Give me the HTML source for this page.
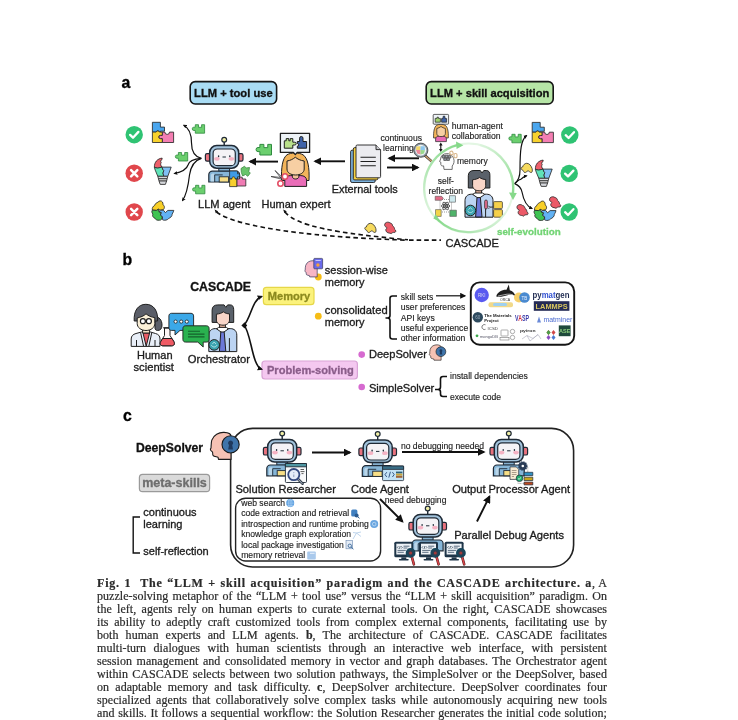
<!DOCTYPE html>
<html><head><meta charset="utf-8">
<style>
html,body{margin:0;padding:0;background:#fff;width:738px;height:720px;overflow:hidden;}
svg{position:absolute;left:0;top:0;will-change:transform;}
.lg text{stroke:none;}
svg text.s, .sg text{stroke-width:0.14px;}
svg text{font-family:"Liberation Sans",sans-serif;fill:#1c1c1c;stroke:#1c1c1c;stroke-width:0.32px;}
.cap{position:absolute;will-change:transform;left:97.2px;width:510px;height:13px;font-family:"Liberation Serif",serif;font-size:12px;line-height:13px;color:#2a2a2a;-webkit-text-stroke:0.2px #2a2a2a;text-align:justify;text-align-last:justify;white-space:nowrap;letter-spacing:0.05px;}
.cap b{font-weight:bold;}
</style></head><body>
<svg width="738" height="720" viewBox="0 0 738 720">
<defs>
<marker id="ah" viewBox="0 0 10 10" refX="8" refY="5" markerWidth="4.2" markerHeight="4.2" orient="auto-start-reverse" markerUnits="strokeWidth"><path d="M0 0L10 5L0 10z" fill="#111"/></marker>
<marker id="ahs" viewBox="0 0 10 10" refX="8" refY="5" markerWidth="5" markerHeight="5" orient="auto-start-reverse" markerUnits="strokeWidth"><path d="M0 0L10 5L0 10z" fill="#111"/></marker>
<marker id="ahx" viewBox="0 0 10 10" refX="7" refY="5" markerWidth="3.3" markerHeight="3.3" orient="auto" markerUnits="strokeWidth"><path d="M0 0.5L10 5L0 9.5z" fill="#111"/></marker>
<marker id="ahm" viewBox="0 0 10 10" refX="7" refY="5" markerWidth="3.4" markerHeight="3.4" orient="auto" markerUnits="strokeWidth"><path d="M0 0.5L10 5L0 9.5z" fill="#111"/></marker>
<g id="rb">
 <line x1="27" y1="7.6" x2="27" y2="11.2" stroke="#1f2a36" stroke-width="1.45"/>
 <circle cx="27" cy="5.3" r="2.4" fill="#f1efa6" stroke="#1f2a36" stroke-width="1.2"/>
 <rect x="8.2" y="19.2" width="5" height="7.6" rx="1.6" fill="#e8727e" stroke="#1f2a36" stroke-width="1.2"/>
 <rect x="40.8" y="19.2" width="5" height="7.6" rx="1.6" fill="#e8727e" stroke="#1f2a36" stroke-width="1.2"/>
 <rect x="21.6" y="33.4" width="10.8" height="3.6" fill="#86b0cf" stroke="#1f2a36" stroke-width="1"/>
 <path d="M11.6 47.6V40.4a3.6 3.6 0 0 1 3.6-3.6H38.8a3.6 3.6 0 0 1 3.6 3.6V47.6Z" fill="#86b6d8" stroke="#1f2a36" stroke-width="1.2"/>
 <path d="M13.6 47V41a2 2 0 0 1 2-2h1.6v8" fill="#b9d6ea" stroke="none"/>
 <path d="M17.5 47.6V40.5h8" fill="none" stroke="#1f2a36" stroke-width="0.9"/>
 <rect x="22" y="42.4" width="9.4" height="5.2" fill="#f7de86" stroke="#1f2a36" stroke-width="0.9"/>
 <rect x="12.5" y="11.2" width="29" height="22.6" rx="7" fill="#a2c3dc" stroke="#1f2a36" stroke-width="1.5"/>
 <rect x="15.9" y="14.6" width="22.2" height="16.6" rx="4.2" fill="#f5f3f6" stroke="#1f2a36" stroke-width="1.2"/>
 <ellipse cx="19.8" cy="24.4" rx="2.8" ry="1.9" fill="#f5b3c4"/>
 <ellipse cx="34.2" cy="24.4" rx="2.8" ry="1.9" fill="#f5b3c4"/>
 <ellipse cx="21.4" cy="21.8" rx="0.7" ry="1.05" fill="#1f2a36"/>
 <ellipse cx="32.6" cy="21.8" rx="0.7" ry="1.05" fill="#1f2a36"/>
 <line x1="25.3" y1="22.6" x2="28.7" y2="22.6" stroke="#1f2a36" stroke-width="1"/>
</g>
<g id="ok"><circle r="8.7" fill="#2fc373"/><path d="M-4.1 0.2L-1.2 3L4.2-2.8" fill="none" stroke="#fff" stroke-width="2.3" stroke-linecap="round" stroke-linejoin="round"/></g>
<g id="no"><circle r="8.7" fill="#e0474c"/><path d="M-3.1-3.1L3.1 3.1M3.1-3.1L-3.1 3.1" stroke="#fff" stroke-width="2.5" stroke-linecap="round"/></g>
<path id="gp" d="M3.1 0.3H6.3V2.9H9.4V0.3H12.4V8.8H3.1V6.1H1.6A1.55 1.65 0 0 1 1.6 2.8H3.1Z" fill="#6bcf6e" stroke="#2f8a3f" stroke-width="0.8" stroke-linejoin="round"/>
</defs>

<!-- ===== panel labels ===== -->
<text x="121.4" y="87.6" font-size="15.8" font-weight="bold" style="fill:#000;stroke:#000">a</text>
<text x="122.4" y="264.8" font-size="15.8" font-weight="bold" style="fill:#000;stroke:#000">b</text>
<text x="123" y="421" font-size="15.8" font-weight="bold" style="fill:#000;stroke:#000">c</text>

<!-- ===== panel a ===== -->
<rect x="190.2" y="81.6" width="86.4" height="22.4" rx="5" fill="#a9dcf4" stroke="#151515" stroke-width="1.6"/>
<text x="233.4" y="96.8" font-size="11.2" font-weight="bold" text-anchor="middle" style="fill:#111;stroke:#111">LLM + tool use</text>
<rect x="426.2" y="81.6" width="127" height="22.4" rx="5" fill="#b6e5a6" stroke="#151515" stroke-width="1.6"/>
<text x="489.7" y="96.8" font-size="11.15" font-weight="bold" text-anchor="middle" style="fill:#111;stroke:#111">LLM + skill acquisition</text>

<text x="224.2" y="208.3" font-size="11.1" text-anchor="middle">LLM agent</text>
<text x="296" y="208.3" font-size="11" text-anchor="middle">Human expert</text>
<text x="364.8" y="193.3" font-size="10.9" text-anchor="middle">External tools</text>
<text class="s" x="401.2" y="141" font-size="8.6" text-anchor="middle">continuous</text>
<text class="s" x="398.4" y="150.6" font-size="8.6" text-anchor="middle">learning</text>
<text class="s" x="451.7" y="128.6" font-size="8.7">human-agent</text>
<text class="s" x="451.7" y="138.6" font-size="8.65">collaboration</text>
<text class="s" x="457" y="163.6" font-size="8.5">memory</text>
<text class="s" x="445.8" y="183.8" font-size="8.5" text-anchor="middle">self-</text>
<text class="s" x="445.8" y="193.8" font-size="8.5" text-anchor="middle">reflection</text>
<text x="528.8" y="234.8" font-size="9.8" font-weight="bold" text-anchor="middle" style="fill:#72d474;stroke:#72d474">self-evolution</text>
<text x="472.2" y="247" font-size="11.1" text-anchor="middle">CASCADE</text>

<!-- arrows a -->
<g stroke="#111" stroke-width="1.9" fill="none">
 <line x1="278" y1="161.6" x2="250" y2="161.6" marker-end="url(#ah)"/>
 <line x1="345" y1="161.3" x2="315" y2="161.3" marker-end="url(#ah)"/>
 <line x1="419" y1="158.3" x2="389" y2="158.3" marker-end="url(#ah)"/>
 <line x1="387" y1="167.5" x2="418" y2="167.5" marker-end="url(#ah)"/>
</g>
<line x1="440.8" y1="144.5" x2="440.8" y2="149.8" stroke="#111" stroke-width="1.1"/><path d="M440.8 142.4L439 145.4H442.6ZM440.8 151.9L439 148.9H442.6Z" fill="#111"/>
<g stroke="#111" stroke-width="1.2" fill="none">
 <path d="M201.3 158.4C196 157 191.5 152 191.5 143C191.5 133 188 127.5 183.8 125.3" marker-end="url(#ahx)"/>
 <path d="M201.3 158.4C194 159 189 161 188 165C186.5 170 180 172.3 174.5 173.5" marker-end="url(#ahx)"/>
 <path d="M201.3 158.4C196 160 191 165 189.5 175C188 188 186 195.5 182.5 200.5" marker-end="url(#ahx)"/>
 <path d="M514.7 183.6C518 181 520 177 520 170C520 150 521 140 526.5 135.5" marker-end="url(#ahx)"/>
 <path d="M514.7 183.6C517 181 519 179.5 520.7 179.3C522 178 523.5 176.5 526.5 175.8" marker-end="url(#ahx)"/>
 <path d="M514.7 183.6C518 185 521 187 522 192C523.5 200 526 206 532 208.5" marker-end="url(#ahx)"/>
</g>
<g stroke="#111" stroke-width="1.6" fill="none" stroke-dasharray="4.6 3.2">
 <path d="M216.5 212C232 224 290 236.5 408 240.2"/>
 <path d="M285 212C296 226 335 233 408 239.8"/>
 <path d="M409 240.1H441" stroke-dasharray="4.6 3"/>
</g>
<path d="M214.6 209.6L218.2 211.2L215.8 213.2Z M283.2 209.4L286.8 211.2L284.4 213.2Z" fill="#111"/>

<!-- ===== panel b ===== -->
<text x="220.6" y="290.8" font-size="12.3" font-weight="bold" text-anchor="middle" style="fill:#111;stroke:#111">CASCADE</text>
<text x="154.8" y="358.9" font-size="11" text-anchor="middle">Human</text>
<text x="153.7" y="371.3" font-size="11.2" text-anchor="middle">scientist</text>
<text x="218.9" y="363" font-size="11.2" text-anchor="middle">Orchestrator</text>
<rect x="263.4" y="287.4" width="50.6" height="17.3" rx="3" fill="#fbf27c" stroke="#e6d748" stroke-width="1.2"/>
<text x="289" y="300.4" font-size="11.1" font-weight="bold" text-anchor="middle" style="fill:#8c8a1e;stroke:#8c8a1e">Memory</text>
<rect x="262" y="361" width="95.4" height="18" rx="3" fill="#f4c8f0" stroke="#d9a3d6" stroke-width="1.2"/>
<text x="310.4" y="374.2" font-size="11.1" font-weight="bold" text-anchor="middle" style="fill:#8a5d8a;stroke:#8a5d8a">Problem-solving</text>
<text x="324.8" y="274.2" font-size="11">session-wise</text>
<text x="324.8" y="286.2" font-size="11">memory</text>
<text x="324.8" y="314.3" font-size="11.2">consolidated</text>
<text x="324.8" y="326" font-size="11">memory</text>
<circle cx="318.3" cy="277" r="3.4" fill="#f6bd16"/>
<circle cx="318.3" cy="316.2" r="3.4" fill="#f6bd16"/>
<g font-size="8.6" class="sg">
<text x="400.8" y="299.7">skill sets</text>
<text x="400.8" y="310.2">user preferences</text>
<text x="400.8" y="320.6">API keys</text>
<text x="400.8" y="331">useful experience</text>
<text x="400.8" y="341.4">other information</text>
</g>
<circle cx="361.7" cy="354.6" r="3.3" fill="#d66ad0"/>
<circle cx="361.7" cy="387" r="3.3" fill="#d66ad0"/>
<text x="368.9" y="358.4" font-size="11.1">DeepSolver</text>
<text x="368.9" y="391.7" font-size="11.1">SimpleSolver</text>
<text class="s" x="450" y="379.2" font-size="8.6">install dependencies</text>
<text class="s" x="450" y="400.3" font-size="8.6">execute code</text>
<g stroke="#111" stroke-width="1.6" fill="none">
 <path d="M244 325.2C251 318 252 300 261.5 296.5" marker-end="url(#ahm)"/>
 <path d="M244 325.2C251 332 252 366 261.5 369.2" marker-end="url(#ahm)"/>
 <path d="M397 296H392.5Q390 296 390 298.5V315.5Q390 318 387.5 318H385.5M387.5 318Q390 318 390 320.5V336.5Q390 339 392.5 339H397"/>
 <path d="M447 376.5H443Q440.5 376.5 440.5 379V387Q440.5 389.5 438 389.5H435M438 389.5Q440.5 389.5 440.5 392V394Q440.5 396.5 443 396.5H447"/>
</g>
<path d="M241.4 325.4L244.6 322.2L247.2 325.4L244.6 328.6Z" fill="#111"/>
<line x1="436" y1="295.8" x2="465" y2="295.8" stroke="#111" stroke-width="1.2" marker-end="url(#ahs)"/>
<rect x="470.8" y="282.4" width="103.4" height="62.4" rx="9" fill="#fff" stroke="#151515" stroke-width="1.9"/>

<!-- ===== panel c ===== -->
<text x="136" y="452" font-size="12.2" font-weight="bold" style="fill:#111;stroke:#111">DeepSolver</text>
<rect x="139.4" y="474.4" width="70.2" height="17.2" rx="3.2" fill="#dadada" stroke="#9a9a9a" stroke-width="1.2"/>
<text x="174.5" y="487.2" font-size="12.5" font-weight="bold" text-anchor="middle" style="fill:#6e6e6e;stroke:#6e6e6e">meta-skills</text>
<text x="143.3" y="515.6" font-size="11">continuous</text>
<text x="143.3" y="528.2" font-size="11">learning</text>
<text x="143.3" y="554.8" font-size="11">self-reflection</text>
<path d="M140 517H133.2V553H140" fill="none" stroke="#111" stroke-width="1.4"/>
<rect x="230.6" y="428.4" width="343" height="138.6" rx="22" fill="none" stroke="#222" stroke-width="1.6"/>
<rect x="235.6" y="498.2" width="145" height="62.8" rx="10" fill="none" stroke="#222" stroke-width="1.4"/>
<text x="285.7" y="492.7" font-size="11.1" text-anchor="middle">Solution Researcher</text>
<text x="379.9" y="492.7" font-size="11.1" text-anchor="middle">Code Agent</text>
<text x="511.1" y="492.7" font-size="11.1" text-anchor="middle">Output Processor Agent</text>
<text x="509.1" y="538.9" font-size="11.1" text-anchor="middle">Parallel Debug Agents</text>
<text class="s" x="442.5" y="448.6" font-size="8.6" text-anchor="middle">no debugging needed</text>
<text class="s" x="415.6" y="502.9" font-size="8.6" text-anchor="middle">need debugging</text>
<g font-size="8.6" class="sg">
<text x="241.2" y="505.8">web search</text>
<text x="241.2" y="516.3">code extraction and retrieval</text>
<text x="241.2" y="526.8">introspection and runtime probing</text>
<text x="241.2" y="537.1">knowledge graph exploration</text>
<text x="241.2" y="547.5">local package investigation</text>
<text x="241.2" y="557.8">memory retrieval</text>
</g>
<g stroke="#111" stroke-width="1.9" fill="none">
 <line x1="312" y1="452.5" x2="350" y2="452.5" marker-end="url(#ah)"/>
 <line x1="402" y1="452" x2="484" y2="452" marker-end="url(#ah)"/>
 <line x1="380" y1="499" x2="402.5" y2="521.5" marker-end="url(#ah)"/>
 <line x1="477" y1="521.5" x2="489.5" y2="496.5" marker-end="url(#ah)"/>
</g>

<!-- robots -->
<use href="#rb" x="197.2" y="134.4"/>
<use href="#rb" x="255.2" y="428.2"/>
<use href="#rb" x="350.7" y="428.8"/>
<use href="#rb" x="481.8" y="428.2"/>
<use href="#rb" x="400.7" y="503.2"/>

<!-- checks / crosses -->
<use href="#ok" x="134.2" y="134.7"/>
<use href="#no" x="134.2" y="173.2"/>
<use href="#no" x="134.2" y="212"/>
<use href="#ok" x="569.8" y="135"/>
<use href="#ok" x="569.2" y="173.4"/>
<use href="#ok" x="569.2" y="212"/>

<!-- green puzzle pieces -->
<use href="#gp" x="192.2" y="124.4"/>
<use href="#gp" x="175.3" y="152.2"/>
<use href="#gp" x="192.5" y="185"/>
<use href="#gp" x="256" y="144" transform="translate(256 144) scale(1.25) translate(-256 -144)"/>
<use href="#gp" x="508.8" y="134"/>

<!-- ===== ICONS panel a ===== -->
<!-- square puzzles -->
<defs><g id="sqp" stroke="#2a2a2a" stroke-width="0.85" stroke-linejoin="round">
 <path d="M0.5 0.5H8.5V5.3H12.6V9.4H8.5V10.3H7.6A1.8 1.8 0 0 0 4.2 10.3H0.5Z" fill="#4aa6ee"/>
 <path d="M0.5 10.3H4.2A1.8 1.8 0 0 1 7.6 10.3H10.5V13.6H8.6A1.6 1.6 0 0 0 8.6 16.8H10.5V20.7H0.5Z" fill="#f8d22e"/>
 <path d="M10.5 10.3H13A2.3 2.3 0 0 0 17.6 10.3H21.7V20.7H10.5V16.8H8.6A1.6 1.6 0 0 1 8.6 13.6H10.5Z" fill="#f47eb2"/>
</g></defs>
<use href="#sqp" x="151.9" y="121.8"/>
<use href="#sqp" x="531.7" y="121.9"/>
<!-- lightbulb puzzles -->
<defs><g id="bulb" stroke="#2a2a2a" stroke-width="0.85" stroke-linejoin="round">
 <path d="M7.5 -0.5C3 0 -0.5 3.5 -0.2 8.8L3 9.5L7.5 8.5C6 7 5.6 5.4 6.6 4C5.6 3 6 1.5 7.5 0.8Z" fill="#ef5f6b"/>
 <path d="M-0.2 8.8L3 9.5L7.5 8.5L8 10.5L9.2 12L8.4 14.5L9.2 17.7H3.2L0.6 11.5Z" fill="#5fe3b8"/>
 <path d="M7.5 8.5H16.6L13.2 17.7H9.2L8.4 14.5L9.2 12L8 10.5Z" fill="#80c0f4"/>
 <path d="M3.2 17.7H13.2L12.5 20.3H3.9Z" fill="#d4d6da"/>
 <path d="M3.9 20.3H12.5L12 22.4H4.4Z" fill="#ffffff"/>
 <path d="M4.4 22.4H12L10.8 25.8H5.6Z" fill="#d4d6da"/>
</g></defs>
<use href="#bulb" x="154.6" y="158.6"/>
<use href="#bulb" x="535.6" y="160.6"/>
<!-- blob puzzles -->
<defs><g id="blob" stroke="#2a2a2a" stroke-width="0.85" stroke-linejoin="round">
 <path d="M1 9.5C0.4 7.4 1.8 5.4 3.4 4.6C3.8 2.8 5.4 2 6.6 1.6C7.6 0 10 -0.2 11 1.4C12 3 11 4 12.4 5C13.4 6 13 8 12 9L9 9.6L7 8.6L5 9.8Z" fill="#f8cf28"/>
 <path d="M1 9.5L5 9.8L7 8.6L7.5 11L10 12L9 14.5L11 16C11 18 10 19.8 8 19.6C6 20 4 19 3.5 17.6C1.6 17 0.6 15 1.5 13.5C0.2 12.2 0.2 10.4 1 9.5Z" fill="#3ec453"/>
 <path d="M9 9.6L12 9.6L14 12L16.5 9.8L22.4 9.8C22 12 20.5 13 20.5 15C19.5 17.5 17 17.5 16 19C14 20 12 19.8 11 19L11 16L9 14.5L10 12L7.5 11Z" fill="#62b2f4"/>
</g></defs>
<use href="#blob" x="151.4" y="200.6"/>
<use href="#blob" x="533.6" y="200.8"/>
<!-- loose pieces -->
<defs><path id="yp" d="M1 6.5C0 5.5 0.5 4 2 4C2.5 2 4 0.5 6 0.3C8.5 0.2 10.5 2.5 11.5 5.5C12 7.5 11.7 9.3 10.8 9.5C9.5 9.7 8.5 8 7.5 7.8C6 8.2 5.5 9.8 4 9.5C3 9.3 3.2 8 2.5 7.5C1.8 7 1.5 7 1 6.5Z" fill="#f6da5e" stroke="#2a2a2a" stroke-width="0.8"/></defs>
<defs><path id="rp" d="M1 1.5C2.5 0 5 0 6 1.2C7 1 8.5 2.5 8.5 4C10 5 10.5 6.5 10.5 7.5C12 8.5 12 10 11 10.5C9 10.5 8 10.8 7 12C6 11 4 11.5 3 10.5C2 10 1.5 8.5 1.8 7.5C3 6.5 3.2 5.5 1.5 5C0.5 4.5 0.2 2.8 1 1.5Z" fill="#ec5a68" stroke="#2a2a2a" stroke-width="0.8"/></defs>
<use href="#yp" x="364.3" y="223"/>
<use href="#rp" x="384.1" y="221.8"/>
<use href="#yp" x="520.6" y="163"/>
<use href="#rp" x="516.4" y="204.2"/>
<use href="#rp" x="549" y="196.4"/>
<!-- LLM agent puzzle -->
<g stroke="#2a2a2a" stroke-width="0.8" stroke-linejoin="round">
 <path d="M229.6 171H237.5V173.8a1.6 1.6 0 1 1 0 3V179H229.6Z" fill="#3f9be6"/>
 <path d="M229.6 179H232a1.6 1.6 0 1 1 3 0H237V186.6H229.6Z" fill="#f7cf2e"/>
 <path d="M237 179H239.5a1.5 1.5 0 1 1 2.8 0H245.8V186H237Z" fill="#f07cb4"/>
 <path d="M241 168.5L244.5 166.2L246.2 168L249.5 167.5L248.8 171.5L250.3 173L247.8 176.3L245.5 174.5L242.6 176L241.4 172.5Z" fill="#69c46b" stroke="#3f8a43"/>
</g>

<!-- Human expert woman -->
<g stroke="#1f1f1f" stroke-width="1" stroke-linejoin="round">
 <path d="M281.6 180.5C281 168 282.5 158 287 154.8C291 152.4 299 152.4 303 154.8C308 158 309.6 168 309 180.5Z" fill="#f2b45a"/>
 <path d="M284.8 186.4V180.5C284.8 177.3 287.3 175.6 290.5 175.6H300.8C304 175.6 306.6 177.3 306.6 180.5V186.4Z" fill="#ea6db8"/>
 <path d="M292.4 173.5V176.8C292.4 178 293.8 179 295.6 179C297.4 179 298.8 178 298.8 176.8V173.5Z" fill="#f3c096"/>
 <path d="M287 161C290.5 160.5 293.2 159 295.3 157.2C297.4 159 300.5 160.5 304.2 161V169C304.2 172.8 300.3 175 295.6 175C290.9 175 287 172.8 287 169Z" fill="#f7cfa3"/>
 <path d="M280.4 133.4H309.6V152.4H297.2L295.3 154.6L293.4 152.4H280.4Z" fill="#eef3f7" stroke-width="1.3"/>
 <path d="M284.3 140.8H286.2V138.6H288.8V140.8H290.2V138.6H292.8V142.2H294.8a1.4 1.4 0 1 1 0 2.8H292.8V148.2H284.3Z" fill="#b9e08b"/>
 <path d="M297.3 141.5H299.6V138.2a1.7 1.7 0 1 1 3.4 0V141.5H306.6V148.2H297.3V146.2a1.35 1.35 0 1 0 0-2.7Z" fill="#3f63a8"/>
</g>
<!-- scissors -->
<g stroke="#2a2a2a" stroke-width="0.7">
 <path d="M271 176.5L282 177.5L281 179Z M275 170.5L284 179L282.5 180Z" fill="#eceef5"/>
 <circle cx="285" cy="176.5" r="2.7" fill="#fff" stroke="#e34e65" stroke-width="1.6"/>
 <circle cx="280.5" cy="183.5" r="2.7" fill="#fff" stroke="#e34e65" stroke-width="1.6"/>
</g>

<!-- External tools docs -->
<g stroke="#1f1f1f" stroke-width="0.9" stroke-linejoin="round">
 <rect x="350.6" y="150.2" width="24.6" height="32.3" rx="1.5" fill="#7cb1dc"/>
 <rect x="353.3" y="147.6" width="24.6" height="32.3" rx="1.5" fill="#f6d142"/>
 <path d="M357.3 145H376L380.6 149.6V176.5a1.3 1.3 0 0 1-1.3 1.3H357.3a1.3 1.3 0 0 1-1.3-1.3V146.3a1.3 1.3 0 0 1 1.3-1.3Z" fill="#ececf0"/>
 <path d="M376 145V149.6H380.6" fill="#c9c9ce"/>
 <path d="M360.5 157.3H375.8M360.5 161.5H375.8M360.5 165.7H375.8" stroke-width="1.1"/>
</g>

<!-- small woman human-agent -->
<g stroke="#1f1f1f" stroke-width="0.7" stroke-linejoin="round">
 <path d="M433.6 138C433.3 132 434.2 127 436.6 125.2C438.8 124 443 124 445.2 125.2C447.8 127 448.6 132 448.3 138Z" fill="#f2b45a"/>
 <path d="M435.6 141.6V139C435.6 137 437.2 136 439.4 136H442.6C444.8 136 446.4 137 446.4 139V141.6Z" fill="#e96bb5"/>
 <path d="M436.8 128.5C438.5 128.2 439.7 127.4 441 126.5C442.3 127.4 443.6 128.2 445.4 128.5V133.5C445.4 135.6 443.3 136.6 441 136.6C438.7 136.6 436.8 135.6 436.8 133.5Z" fill="#f7cfa3"/>
 <rect x="433.2" y="114.4" width="15.4" height="9.8" rx="0.8" fill="#eef3f7"/>
 <path d="M435.2 118.4H437V117.2H438.4V118.4H440.4V122.2H435.2Z" fill="#9fd26f"/>
 <path d="M441.6 118.6H443V117a1 1 0 1 1 2 0V118.6H446.6V122.2H441.6Z" fill="#3f63a8"/>
</g>
<!-- magnifier w/ puzzle -->
<g>
 <line x1="425" y1="155.5" x2="431.6" y2="161.4" stroke="#2a2a2a" stroke-width="2.6" stroke-linecap="round"/>
 <line x1="425" y1="155.5" x2="431.6" y2="161.4" stroke="#c99a6b" stroke-width="1.5" stroke-linecap="round"/>
 <circle cx="420.8" cy="150.2" r="6.3" fill="#eef3f5" stroke="#8d9aa4" stroke-width="1.6"/>
 <circle cx="420.8" cy="150.2" r="7.1" fill="none" stroke="#2a2a2a" stroke-width="0.7"/>
 <path d="M416.2 146.4L420.6 146.2L420.4 150H416Z" fill="#f4d86a"/>
 <path d="M420.6 146.2H424.6L425 150.2L420.4 150Z" fill="#8cc6ee"/>
 <path d="M416 150H420.4L420.6 154.4L417.2 153.6Z" fill="#ee8a9a"/>
 <path d="M420.4 150L425 150.2L424 153.6L420.6 154.4Z" fill="#9ad88e"/>
</g>
<!-- brain memory -->
<g stroke="#4a4a4a" stroke-width="0.8" fill="#fdfdfd" stroke-linejoin="round">
 <path d="M452.2 169.4V166C454 164 454.6 161 453.6 158.4C452.6 155 449.6 153.5 446.6 153.6C443 153.7 440.8 156 440.6 159L439.6 161.6L440.8 162.2V164.4C440.8 165.6 442 166.1 443.6 165.9L444 169.4Z"/>
 <rect x="442.3" y="155.6" width="2.6" height="2.4" fill="#9aa2ad"/>
 <rect x="445.3" y="155.2" width="2.6" height="2.4" fill="#9aa2ad"/>
 <rect x="448.3" y="155.6" width="2.6" height="2.4" fill="#9aa2ad"/>
 <rect x="443.8" y="158.2" width="2.6" height="2.2" fill="#9aa2ad"/>
 <rect x="446.8" y="158.2" width="2.6" height="2.2" fill="#9aa2ad"/>
</g>
<g fill="none" stroke="#d8b589" stroke-width="1.1">
 <rect x="450" y="151.2" width="3" height="3.6" rx="1.2" transform="rotate(-25 451.5 153)"/>
 <rect x="454" y="153.5" width="3" height="4.2" rx="1.3"/>
</g>
<!-- self-reflection network -->
<g stroke="#555" stroke-width="0.6">
 <path d="M440 199.5H451.5M440 199.5V212M451.5 199.5V212M440 212H451.5" stroke-dasharray="1 1" fill="none"/>
 <path d="M435.2 196.3H441.6l1.8 2-1.8 2H435.2Z" fill="#e26b86"/>
 <rect x="449.6" y="195.8" width="6" height="6.3" fill="#cde9ee"/>
 <path d="M435.5 209.6H441.2V216.4H435.5Z" fill="#f2d549"/>
 <path d="M449.8 210.2H456.4V216.4H449.8Z" fill="#4fb36a"/>
 <circle cx="445.6" cy="206" r="4.2" fill="#fff" stroke="none"/>
 <g fill="none" stroke="#4a4a4a" stroke-width="0.9"><ellipse cx="445.6" cy="206" rx="4.3" ry="1.7"/><ellipse cx="445.6" cy="206" rx="4.3" ry="1.7" transform="rotate(60 445.6 206)"/><ellipse cx="445.6" cy="206" rx="4.3" ry="1.7" transform="rotate(120 445.6 206)"/></g>
 <circle cx="445.6" cy="206" r="0.9" fill="#4a4a4a"/>
</g>
<!-- man (skill acquisition) -->
<defs><g id="man" stroke="#1f1f1f" stroke-width="1" stroke-linejoin="round">
 <path d="M0 47V30.5C0 26.5 2.5 24 6.5 24H21.5C25.5 24 28 26.5 28 30.5V47Z" fill="#bcd4f2"/>
 <path d="M20.6 33.5V47" fill="none"/>
 <rect x="10.8" y="19" width="5.8" height="5.6" fill="#e9b49c"/>
 <path d="M7.8 24.3L13.7 28.4L19.6 24.3L17.6 22.8H9.8Z" fill="#fff"/>
 <path d="M12 27.4H15.4L17 46.8H10.6Z" fill="#6b78d8"/>
 <path d="M3.3 17.8V5.5C3.3 2 5.5 0.3 9 0.3H15.3L17 2.8L18.8 0.3H21.3C23.8 0.3 24.9 2 24.9 5V17.8Z" fill="#5a616a"/>
 <path d="M7.6 9.6C10.5 9.2 13 8.6 14.5 7.2C16.3 8.6 18.5 9.2 20.7 9.3V15.5C20.7 18.5 17.8 20.6 14.2 20.6C10.5 20.6 7.6 18.5 7.6 15.5Z" fill="#f8d5c8"/>
 <circle cx="5.4" cy="40.3" r="5.3" fill="#3ca4b0"/>
 <path d="M2.6 40.5C3.5 43 7.3 43 8.2 40.5M3.5 39.5L5.4 37.4L7.3 39.5" fill="none" stroke="#c8eef0" stroke-width="0.8"/>
</g></defs>
<use href="#man" x="465" y="170.2"/>
<g stroke="#2a2a2a" stroke-width="0.7">
 <rect x="484.6" y="200" width="2.8" height="9" rx="1.4" fill="#e06a8a"/>
 <rect x="493.6" y="201.6" width="8.8" height="7" rx="1" fill="#f5d04a"/>
 <rect x="493.6" y="209.6" width="8.8" height="7.6" rx="1" fill="#f5d04a"/>
 <path d="M488 206L494 208M488 208.5L494 206" stroke="#444" fill="none"/>
</g>
<!-- green circle (self-evolution) -->
<defs>
 <linearGradient id="g1" gradientUnits="userSpaceOnUse" x1="430" y1="215" x2="462" y2="144"><stop offset="0" stop-color="#86d98a" stop-opacity="0.05"/><stop offset="1" stop-color="#86d98a"/></linearGradient>
 <linearGradient id="g2" gradientUnits="userSpaceOnUse" x1="478" y1="144" x2="513" y2="197"><stop offset="0" stop-color="#86d98a" stop-opacity="0.05"/><stop offset="1" stop-color="#86d98a"/></linearGradient>
 <linearGradient id="g3" gradientUnits="userSpaceOnUse" x1="508" y1="212" x2="434" y2="218"><stop offset="0" stop-color="#86d98a" stop-opacity="0.05"/><stop offset="1" stop-color="#86d98a"/></linearGradient>
</defs>
<circle cx="468.5" cy="188" r="44.5" fill="none" stroke="#e3f6e3" stroke-width="2"/>
<path d="M440 222A44.5 44.5 0 0 1 458 144.8" fill="none" stroke="url(#g1)" stroke-width="2.4"/>
<path d="M480 145A44.5 44.5 0 0 1 512.8 194" fill="none" stroke="url(#g2)" stroke-width="2.4"/>
<path d="M505 213A44.5 44.5 0 0 1 438 220" fill="none" stroke="url(#g3)" stroke-width="2.4"/>
<path d="M456 141.6L463.4 145.2L456.6 149Z" fill="#86d98a"/>
<path d="M509 192.5L513 200L516.8 193Z" fill="#86d98a"/>
<path d="M441.5 222.8L433.4 218.6L435.6 214.2Z" fill="#86d98a"/>

<!-- ===== ICONS panel b ===== -->
<use href="#man" x="208.8" y="304.6"/>
<!-- human scientist -->
<g stroke="#1f1f1f" stroke-width="1" stroke-linejoin="round">
 <path d="M155 317C159 316.5 162 320 162 325C162 328.5 160.5 330.5 157.5 330.5C156 330.5 155 329.5 155 328Z" fill="#5b5e68"/>
 <path d="M131.2 346.4V339C131.2 336 133 334.3 136 333.5L141.5 332H150.5L155.5 333.5C158.5 334.3 160 336 160 339V346.4Z" fill="#e9eff8"/>
 <path d="M143 333L146.2 346.2L149.6 333Z" fill="#ea5d66"/>
 <path d="M140.6 332.5L143.5 346M151.8 332.5L148.9 346M136.5 340V346.4M155 340V346.4" fill="none"/>
 <rect x="142.6" y="328.5" width="7" height="4.5" fill="#f7e3c6"/>
 <path d="M134.2 321C133.5 311 138 304.3 145.9 304.3C153.8 304.3 158.2 311 157.6 321Z" fill="#5b5e68"/>
 <path d="M137.2 318C140.5 317.2 144 316 146 313.8C148.5 316 151.5 317.2 154.8 317.6V323.5C154.8 327.5 151 330.5 146 330.5C141 330.5 137.2 327.5 137.2 323.5Z" fill="#fbf0d8"/>
 <circle cx="142.9" cy="321.2" r="2.5" fill="#fff" stroke-width="1.2"/>
 <circle cx="148.9" cy="321.2" r="2.5" fill="#fff" stroke-width="1.2"/>
 <path d="M164.5 328V335.5L160.8 341.5C159.5 343.8 160.5 345.8 163 345.8H171.6C174.1 345.8 175.1 343.8 173.8 341.5L170 335.5V328Z" fill="#fdf6f6"/>
 <path d="M162.6 338.5H172L173.8 341.5C175.1 343.8 174.1 345.8 171.6 345.8H163C160.5 345.8 159.5 343.8 160.8 341.5Z" fill="#ef5a64"/>
 <path d="M163.2 327.8H171.2" stroke-width="1.2"/>
</g>
<!-- speech bubbles -->
<g stroke="#1f1f1f" stroke-width="0.9" stroke-linejoin="round">
 <path d="M171.5 313.3H191C192.5 313.3 193.6 314.4 193.6 315.9V327.8C193.6 329.3 192.5 330.4 191 330.4H180L175 335V330.4H171.5C170 330.4 168.9 329.3 168.9 327.8V315.9C168.9 314.4 170 313.3 171.5 313.3Z" fill="#3ba8e8"/>
 <circle cx="175.6" cy="321.6" r="1.6" fill="#fff" stroke-width="0.8"/>
 <circle cx="181.2" cy="321.6" r="1.6" fill="#fff" stroke-width="0.8"/>
 <circle cx="186.8" cy="321.6" r="1.6" fill="#fff" stroke-width="0.8"/>
 <path d="M185.5 325.8H206.5C208 325.8 209.1 326.9 209.1 328.4V339.5C209.1 341 208 342.1 206.5 342.1H203.2V347L197.8 342.1H185.5C184 342.1 182.9 341 182.9 339.5V328.4C182.9 326.9 184 325.8 185.5 325.8Z" fill="#2ab24f"/>
 <path d="M188 331.3H200M188 334.1H204.5M188 336.9H204.5" stroke="#15612c" stroke-width="1.1"/>
</g>
<!-- session-wise icon -->
<g stroke="#3a3a5a" stroke-width="0.7" stroke-linejoin="round">
 <path transform="translate(301.6 260.6) scale(0.6)" d="M26 27.2H13.5L13 25C11.5 24.5 9 24.5 8.2 23.5C7 22 8.5 20 7 19.2C5.5 18.5 4.8 17 6 16C6.2 13.5 6 10.5 6.8 8C8.5 2.5 14 0 19 0.2C23 0.4 26 2 26 4Z" fill="#f7b6c5" stroke-width="1.2"/>
 <rect x="313.8" y="258.4" width="8.8" height="10.4" rx="0.8" fill="#6a6aea"/>
 <circle cx="317.9" cy="265" r="1.7" fill="#f5a03a" stroke="none"/>
 <path d="M315.5 260.5H320.8" stroke="#cfcfff" stroke-width="0.9"/>
</g>
<!-- DeepSolver head icon (def) -->
<defs>
<g id="dsh" stroke="#1a1a1a" stroke-width="1.1" stroke-linejoin="round">
 <path d="M26 27.2H13.5L13 25C11.5 24.5 9 24.5 8.2 23.5C7 22 8.5 20 7 19.2C5.5 18.5 4.8 17 6 16C6.2 13.5 6 10.5 6.8 8C8.5 2.5 14 0 19 0.2C23 0.4 26 2 26 4Z" fill="#f6c2b4"/>
 <circle cx="25.6" cy="12.2" r="8.6" fill="#3f74aa"/>
 <path d="M25.6 8.2a2.6 2.6 0 0 1 1.6 4.6L28 17.2H23.2L24 12.8a2.6 2.6 0 0 1 1.6-4.6Z" fill="#203a5e" stroke="none"/>
</g>
</defs>
<use href="#dsh" x="205" y="432.2"/>
<use href="#dsh" transform="translate(426.3 344.7) scale(0.57)"/>
<!-- logos box content -->
<g class="lg">
 <circle cx="481.7" cy="295" r="7.2" fill="#5a5af0"/>
 <text class="s" x="481.7" y="297" font-size="4.5" text-anchor="middle" style="fill:#dde">RKI</text>
 <path d="M496.2 296.4C497.5 292 502 289.6 506.5 289.8L508.8 284.6L509.8 290.2C512.5 291 514.6 293 515.4 295.8C513 294.8 510 294.6 507.5 295.2C504 296.2 499.5 297.6 496.2 296.4Z" fill="#1e1e1e"/>
 <path d="M498 296C501 295.6 504 294.6 507 294.2C509 294 511 294.2 513 294.8" fill="none" stroke="#fff" stroke-width="0.6"/>
 <text class="s" x="505" y="300.5" font-size="3.5" text-anchor="middle" style="fill:#333">ORCA</text>
 <rect x="488.5" y="302.2" width="24.5" height="5" rx="2" fill="#f1d98a"/>
 <rect x="493" y="303" width="14" height="3" rx="1.5" fill="#9fd0f0"/>
 <circle cx="519" cy="297.5" r="5" fill="#f6cf6a"/>
 <circle cx="524.5" cy="297.5" r="5.3" fill="#4a8ad0"/>
 <text class="s" x="524.5" y="299.5" font-size="4.5" text-anchor="middle" style="fill:#e8f0ff">TB</text>
 <text class="s" x="532.5" y="298.4" font-size="8.6" font-weight="bold" style="fill:#1e2a50" textLength="37" lengthAdjust="spacingAndGlyphs">py<tspan style="fill:#2f4fd0">mat</tspan>gen</text>
 <rect x="533.8" y="301.2" width="35.6" height="9.6" fill="#252b55"/>
 <text class="s" x="551.6" y="309.2" font-size="8" font-weight="bold" text-anchor="middle" style="fill:#d8c660" textLength="32" lengthAdjust="spacingAndGlyphs">LAMMPS</text>
 <circle cx="477.8" cy="317.3" r="5.2" fill="#2e4a5e"/>
 <text class="s" x="477.8" y="319" font-size="4.5" text-anchor="middle" style="fill:#9ab">60</text>
 <text class="s" x="484.2" y="317.2" font-size="4.3" font-weight="bold" style="fill:#222" textLength="27.5" lengthAdjust="spacingAndGlyphs">The Materials</text>
 <text class="s" x="484.2" y="321.6" font-size="4.3" font-weight="bold" style="fill:#222">Project</text>
 <text class="s" x="515" y="321" font-size="9" font-weight="bold" style="fill:#3a3aa8" textLength="14" lengthAdjust="spacingAndGlyphs">V<tspan style="fill:#d03040">A</tspan>SP</text>
 <path d="M537 322.5L539 316.5L541 322.5Z" fill="#6a8ad8"/>
 <text class="s" x="543.4" y="322.4" font-size="7.4" style="fill:#4a6ad0" textLength="29" lengthAdjust="spacingAndGlyphs">matminer</text>
 <text class="s" x="487.5" y="329.8" font-size="4.4" style="fill:#444">ICSD</text>
 <path d="M485.5 324.8a2.5 2.5 0 1 0 0 4.5" fill="none" stroke="#444" stroke-width="0.7"/>
 <circle cx="477" cy="335.8" r="1.4" fill="#3aa84a"/>
 <text class="s" x="480" y="337.6" font-size="4.2" style="fill:#556" textLength="18" lengthAdjust="spacingAndGlyphs">mongoDB</text>
 <rect x="501" y="330" width="7" height="6" rx="0.6" fill="none" stroke="#777" stroke-width="0.6"/>
 <rect x="500" y="337.5" width="9" height="2.5" fill="none" stroke="#777" stroke-width="0.6"/>
 <circle cx="512.5" cy="331.5" r="2.2" fill="none" stroke="#777" stroke-width="0.6"/>
 <circle cx="512.5" cy="337.5" r="2.2" fill="none" stroke="#777" stroke-width="0.6"/>
 <text class="s" x="520" y="331.6" font-size="4.2" font-weight="bold" style="fill:#333" textLength="15.5" lengthAdjust="spacingAndGlyphs">pyiron</text>
 <path d="M522 339L527 335.5L533 338.5L538 334.5L541 339M527 335.5L530 341L538 334.5" fill="none" stroke="#aab" stroke-width="0.6"/>
 <path d="M546.5 332.5l2-2.5 2 2.5-2 2.5Z M551.5 332.5l2-2.5 2 2.5-2 2.5Z" fill="#d04848"/>
 <path d="M546.5 332.5l2-2.5 2 2.5-2 2.5Z" fill="#4aa04a"/>
 <path d="M546.5 337.5l2-2.5 2 2.5-2 2.5Z" fill="#8a4ac0"/>
 <path d="M551.5 337.5l2-2.5 2 2.5-2 2.5Z" fill="#4a7ad0"/>
 <rect x="558.8" y="325.4" width="11.8" height="10.8" fill="#1f4a3c"/>
 <text class="s" x="564.7" y="333" font-size="5.5" font-weight="bold" text-anchor="middle" style="fill:#8fd07f">ASE</text>
</g>

<!-- ===== ICONS panel c ===== -->
<!-- SR window + magnifier -->
<g stroke="#1f2a36" stroke-width="0.9" stroke-linejoin="round">
 <rect x="285.4" y="463.5" width="21.1" height="19" rx="1" fill="#f7f9fb"/>
 <rect x="285.4" y="463.5" width="21.1" height="3.3" fill="#4f97a3"/>
 <path d="M300.5 469.5H304M300.5 471.6H304.5M301.5 473.6H303.5" stroke="#333" stroke-width="0.8"/>
 <line x1="297.5" y1="478.5" x2="302.5" y2="483.7" stroke="#1f2a36" stroke-width="2.6" stroke-linecap="round"/>
 <line x1="297.8" y1="478.8" x2="302.2" y2="483.4" stroke="#9aa4b4" stroke-width="1.2" stroke-linecap="round"/>
 <circle cx="293.8" cy="474.6" r="5.6" fill="#e5ecf8" stroke="#34497f" stroke-width="1.8"/>
 <path d="M293.8 472.2v1M293.8 474.5v2.6" stroke="#8a9ab8" stroke-width="1"/>
</g>
<!-- CA code window -->
<g stroke="#1f2a36" stroke-width="0.8" stroke-linejoin="round">
 <rect x="382.6" y="466" width="21" height="14.6" rx="0.8" fill="#c4e3f6"/>
 <rect x="382.6" y="466" width="21" height="3.4" fill="#3a6f88"/>
 <path d="M386.8 472.2L385 474.6L386.8 477M390.4 471.8L388.8 477.6M392.4 472.2L394.2 474.6L392.4 477" fill="none" stroke="#2a4a78" stroke-width="0.9"/>
 <rect x="396" y="471.6" width="6.4" height="1.8" fill="#2c5f78" stroke="none"/>
 <rect x="396" y="473.6" width="6.4" height="2" fill="#c9a63a" stroke="none"/>
 <rect x="396" y="475.8" width="6.4" height="2" fill="#a0643a" stroke="none"/>
</g>
<!-- OP docs/gear/stack -->
<g stroke="#1f2a36" stroke-width="0.7" stroke-linejoin="round">
 <circle cx="522.8" cy="466" r="4" fill="#2a3c56" stroke="#2a3c56" stroke-dasharray="1.2 0.9" stroke-width="1.6"/>
 <circle cx="522.8" cy="466" r="1.3" fill="#fff" stroke="none"/>
 <path d="M527.8 467V472M518 481.5V483.5H526" stroke="#555" stroke-width="0.5" stroke-dasharray="0.8 0.6" fill="none"/>
 <path d="M510 466.9H516.3L518.7 469.3V479.4H510Z" fill="#f8ebd3"/>
 <path d="M511.8 470.5H516.5M511.8 472.5H516.5M511.8 474.5H516.5M511.8 476.5H514" stroke="#8a7a6a" stroke-width="0.7"/>
 <circle cx="519.5" cy="478.3" r="3.3" fill="#1fae6e"/>
 <path d="M517.9 478.3l1.1 1.1 2.1-2" fill="none" stroke="#fff" stroke-width="0.8"/>
 <rect x="524.1" y="472.3" width="8.7" height="3.3" fill="#2f8fc0"/>
 <rect x="524.1" y="477.2" width="8.7" height="3.3" fill="#c8a41a"/>
 <rect x="524.1" y="482.1" width="8.7" height="2.8" fill="#c04a20"/>
</g>
<!-- PD monitors -->
<defs>
<g id="mon">
 <rect x="0" y="0" width="19" height="15.6" rx="1.6" fill="#1f3548"/>
 <rect x="2" y="2" width="15" height="10.8" fill="#eef2f6"/>
 <path d="M4 4.6L3 5.7 4 6.8M5.9 4.3L5.2 7.1M7 4.6L8 5.7 7 6.8" fill="none" stroke="#1f3548" stroke-width="0.7"/>
 <path d="M9.2 4.5H15.2M9.2 6.3H13.2M3.2 8.7H11.5M3.2 10.6H9.5" stroke="#4a5e74" stroke-width="0.9"/>
 <rect x="7" y="15.6" width="5" height="1.8" fill="#1f3548"/>
 <rect x="4.6" y="17.2" width="9.8" height="1.6" rx="0.7" fill="#1f3548"/>
 <line x1="17.6" y1="15.5" x2="19.6" y2="22.6" stroke="#5a1a1a" stroke-width="2.6" stroke-linecap="round"/>
 <line x1="17.6" y1="15.5" x2="19.6" y2="22.6" stroke="#d9464a" stroke-width="1.5" stroke-linecap="round"/>
 <circle cx="16.3" cy="11.2" r="3.9" fill="#2c3e50" stroke="#17475c" stroke-width="2"/>
 <circle cx="16.3" cy="11.2" r="1.5" fill="#a33a3a"/>
</g>
</defs>
<use href="#mon" x="394.3" y="541.7"/>
<use href="#mon" x="419" y="541.7"/>
<use href="#mon" x="444.6" y="541.7"/>
<!-- list icons -->
<g stroke-width="0.5">
 <circle cx="290.2" cy="503.1" r="4" fill="#5a9ee0"/>
 <path d="M286.2 503.1H294.2M290.2 499.1V507.1M287.2 500.8H293.2M287.2 505.4H293.2" stroke="#b9d8f5" fill="none"/>
 <ellipse cx="290.2" cy="503.1" rx="1.8" ry="4" fill="none" stroke="#b9d8f5"/>
 <rect x="351.2" y="509.4" width="6.2" height="7.2" rx="1.5" fill="#3f7fc0"/>
 <circle cx="356.6" cy="515.6" r="2" fill="#2a5a90"/>
 <line x1="358" y1="517" x2="359.5" y2="518.3" stroke="#2a5a90" stroke-width="1"/>
 <circle cx="374.2" cy="524.1" r="4" fill="#6aa6e0"/>
 <circle cx="374.2" cy="524.1" r="1.8" fill="none" stroke="#d0e4f7" stroke-width="0.7"/>
 <path d="M353 539L356.5 533L361 536.5M353 532.5L356.5 533L361 532" fill="none" stroke="#b8d0ea" stroke-width="0.9"/>
 <rect x="346" y="540.6" width="6.6" height="8.2" fill="#e4ecf6" stroke="#6a88b0" stroke-width="0.6"/>
 <circle cx="349.8" cy="545.8" r="1.7" fill="none" stroke="#2a5a90" stroke-width="0.8"/>
 <line x1="351" y1="547" x2="353.5" y2="549.2" stroke="#2a5a90" stroke-width="0.8"/>
 <rect x="307.2" y="551.4" width="8.6" height="8" rx="1" fill="#a9c9ec"/>
 <rect x="310" y="552.8" width="4.6" height="1" fill="#e8f0fa"/>
</g>

</svg>

<div class="cap" style="top:577.3px"><b style="letter-spacing:0.8px">Fig. 1&nbsp; The &#8220;LLM + skill acquisition&#8221; paradigm and the CASCADE architecture. a</b>, A</div>
<div class="cap" style="top:590.3px">puzzle-solving metaphor of the &#8220;LLM + tool use&#8221; versus the &#8220;LLM + skill acquisition&#8221; paradigm. On</div>
<div class="cap" style="top:603.3px">the left, agents rely on human experts to curate external tools. On the right, CASCADE showcases</div>
<div class="cap" style="top:616.3px">its ability to adeptly craft customized tools from complex external components, facilitating use by</div>
<div class="cap" style="top:629.3px">both human experts and LLM agents. <b>b</b>, The architecture of CASCADE. CASCADE facilitates</div>
<div class="cap" style="top:642.3px">multi-turn dialogues with human scientists through an interactive web interface, with persistent</div>
<div class="cap" style="top:655.3px">session management and consolidated memory in vector and graph databases. The Orchestrator agent</div>
<div class="cap" style="top:668.3px">within CASCADE selects between two solution pathways, the SimpleSolver or the DeepSolver, based</div>
<div class="cap" style="top:681.3px">on adaptable memory and task difficulty. <b>c</b>, DeepSolver architecture. DeepSolver coordinates four</div>
<div class="cap" style="top:694.3px">specialized agents that collaboratively solve complex tasks while autonomously acquiring new tools</div>
<div class="cap" style="top:707.3px">and skills. It follows a sequential workflow: the Solution Researcher generates the initial code solution;</div>
</body></html>
